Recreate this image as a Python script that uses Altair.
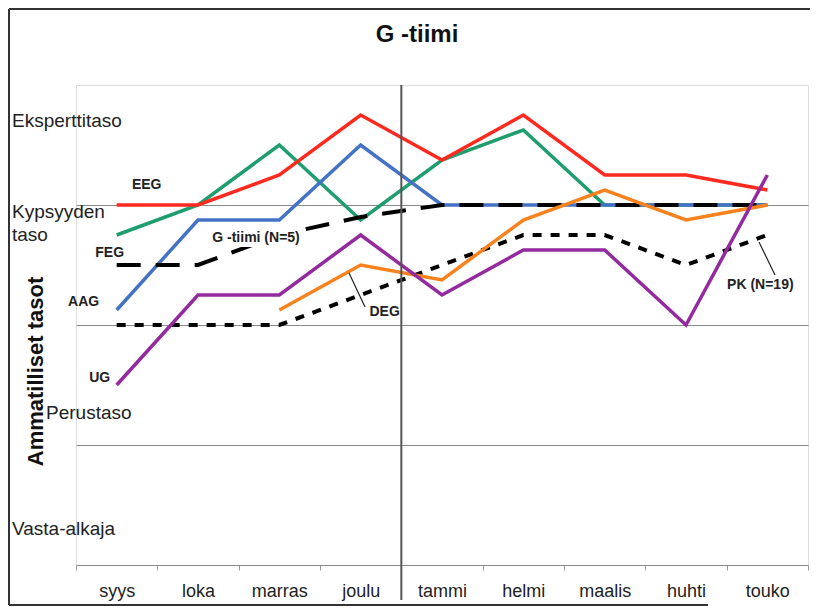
import altair as alt
import pandas as pd

months = ["syys", "loka", "marras", "joulu", "tammi", "helmi", "maalis", "huhti", "touko"]

EEG = [3.0, 3.0, 3.25, 3.75, 3.375, 3.75, 3.25, 3.25, 3.125]
FEG = [2.75, 3.0, 3.5, 2.875, 3.375, 3.625, 3.0, 3.0, 3.0]
AAG = [2.125, 2.875, 2.875, 3.5, 3.0, 3.0, 3.0, 3.0, 3.0]
UG = [1.5, 2.25, 2.25, 2.75, 2.25, 2.625, 2.625, 2.0, 3.25]
DEG = [None, None, 2.125, 2.5, 2.375, 2.875, 3.125, 2.875, 3.0]
G_TIIMI = [2.5, 2.5, 2.75, 2.9, 3.0, 3.0, 3.0, 3.0, 3.0]
PK = [2.0, 2.0, 2.0, 2.25, 2.5, 2.75, 2.75, 2.5, 2.75]

level_names = ["Eksperttitaso", "Kypsyyden", "taso", "Vasta-alkaja"]
level_values = [3.7, 2.94, 2.75, 0.3]
level_names_inner = ["Perustaso"]
level_values_inner = [1.27]

series_names = ["FEG", "EEG", "AAG", "G -tiimi (N=5)", "PK (N=19)", "DEG", "UG"]
series_values = [FEG, EEG, AAG, G_TIIMI, PK, DEG, UG]
series_colors = ["#1E9E6E", "#FF2A1F", "#4472C4", "#000000", "#000000", "#F7821E", "#932A9E"]
series_dash = [None, None, None, [24, 15], [9, 9], None, None]

label_texts = ["EEG", "FEG", "AAG", "UG", "G -tiimi (N=5)", "DEG", "PK (N=19)"]
label_months = ["syys", "syys", "syys", "syys", "loka", "joulu", "touko"]
label_values = [3.17, 2.6, 2.19, 1.56, 2.725, 2.11, 2.33]
label_dx = [30, -7, -33, -17, 58, 24, -7]

FONT = "Liberation Sans"
W, H = 732, 480

xenc = alt.X("month:N", sort=months, scale=alt.Scale(domain=months, paddingInner=0, paddingOuter=0),
             axis=alt.Axis(title=None, tickBand="extent", labelFontSize=18, labelFont=FONT,
                           labelColor="#222222", labelPadding=12, tickSize=5, tickColor="#999999",
                           domainColor="#8a8a8a", labelAngle=0, grid=False))
yscale = alt.Scale(domain=[0, 4], nice=False)
yenc = alt.Y("v:Q", scale=yscale,
             axis=alt.Axis(title="Ammatilliset tasot", values=[1, 2, 3], labels=False, ticks=False,
                           domain=False, grid=True, gridColor="#8a8a8a", gridWidth=1,
                           titleFontSize=22, titleFont=FONT, titleFontWeight="bold", titleColor="#111111",
                           titleX=-41, titleY=286, titleAngle=270, titleAlign="center",
                           titleBaseline="middle"))

layers = []

# frame around the figure (left, top, bottom edges)
one = pd.DataFrame({"a": [0]})
frame_style = dict(color="#333333", strokeWidth=2)
layers.append(alt.Chart(one).mark_rule(**frame_style).encode(
    x=alt.value(-67), y=alt.value(-76), y2=alt.value(H + 40)))
layers.append(alt.Chart(one).mark_rule(**frame_style).encode(
    x=alt.value(-67), x2=alt.value(W + 2), y=alt.value(-76)))
layers.append(alt.Chart(one).mark_rule(**frame_style).encode(
    x=alt.value(-67), x2=alt.value(W - 100), y=alt.value(H + 40)))

# axis skeleton with gridlines
base_df = pd.DataFrame({"month": months, "v": [0.0] * len(months)})
layers.append(alt.Chart(base_df).mark_point(opacity=0).encode(x=xenc, y=yenc))

for name, vals, col, dash in zip(series_names, series_values, series_colors, series_dash):
    df = pd.DataFrame({"month": months, "v": vals}).dropna()
    kw = dict(color=col, strokeWidth=3.5 if dash is None else 4)
    if dash is not None:
        kw["strokeDash"] = dash
    layers.append(alt.Chart(df).mark_line(**kw).encode(
        x=alt.X("month:N", sort=months), y=alt.Y("v:Q", scale=yscale)))

# vertical separator between joulu and tammi
sep = alt.Chart(pd.DataFrame({"month": ["tammi"], "v": [4.0]})).mark_rule(
    color="#555555", strokeWidth=2
).encode(x=alt.X("month:N", sort=months, bandPosition=0), y=alt.Y("v:Q", scale=yscale),
         y2=alt.value(H + 35))
layers.append(sep)

# level labels
lv = pd.DataFrame({"t": level_names, "v": level_values})
layers.append(alt.Chart(lv).mark_text(align="left", baseline="middle", fontSize=19, font=FONT,
                                      color="#222222").encode(
    x=alt.value(-64), y=alt.Y("v:Q", scale=yscale), text="t:N"))
lv2 = pd.DataFrame({"t": level_names_inner, "v": level_values_inner})
layers.append(alt.Chart(lv2).mark_text(align="left", baseline="middle", fontSize=19, font=FONT,
                                       color="#222222").encode(
    x=alt.value(-30), y=alt.Y("v:Q", scale=yscale), text="t:N"))

# white box behind the team label (as in the original text box)
layers.append(alt.Chart(one).mark_rect(fill="white").encode(
    x=alt.value(130), x2=alt.value(230), y=alt.value(144), y2=alt.value(162)))

# series labels
for t, m, v, dx in zip(label_texts, label_months, label_values, label_dx):
    layers.append(alt.Chart(pd.DataFrame({"month": [m], "v": [v], "t": [t]})).mark_text(
        align="center", baseline="middle", fontSize=14, fontWeight="bold", font=FONT,
        color="#222222", dx=dx).encode(
        x=alt.X("month:N", sort=months), y=alt.Y("v:Q", scale=yscale), text="t:N"))

# leader lines
leaders = [(273, 188, 289, 222), (683, 157, 699, 190)]
for x1, y1, x2, y2 in leaders:
    layers.append(alt.Chart(one).mark_rule(color="#222222", strokeWidth=1.2).encode(
        x=alt.value(x1), y=alt.value(y1), x2=alt.value(x2), y2=alt.value(y2)))

chart = alt.layer(*layers).properties(
    width=W, height=H,
    title=alt.TitleParams("G -tiimi", fontSize=24, fontWeight="bold", font=FONT, anchor="middle",
                          dx=-25, offset=-58, baseline="alphabetic", color="#111111", frame="group"),
    padding={"left": 68, "top": 77, "right": 2, "bottom": 42},
    autosize=alt.AutoSizeParams(type="none"),
).configure_view(stroke="#d4d4d4", strokeWidth=1.5).configure(background="white")

chart.save("out.html", embed_options={"renderer": "svg", "actions": False})
